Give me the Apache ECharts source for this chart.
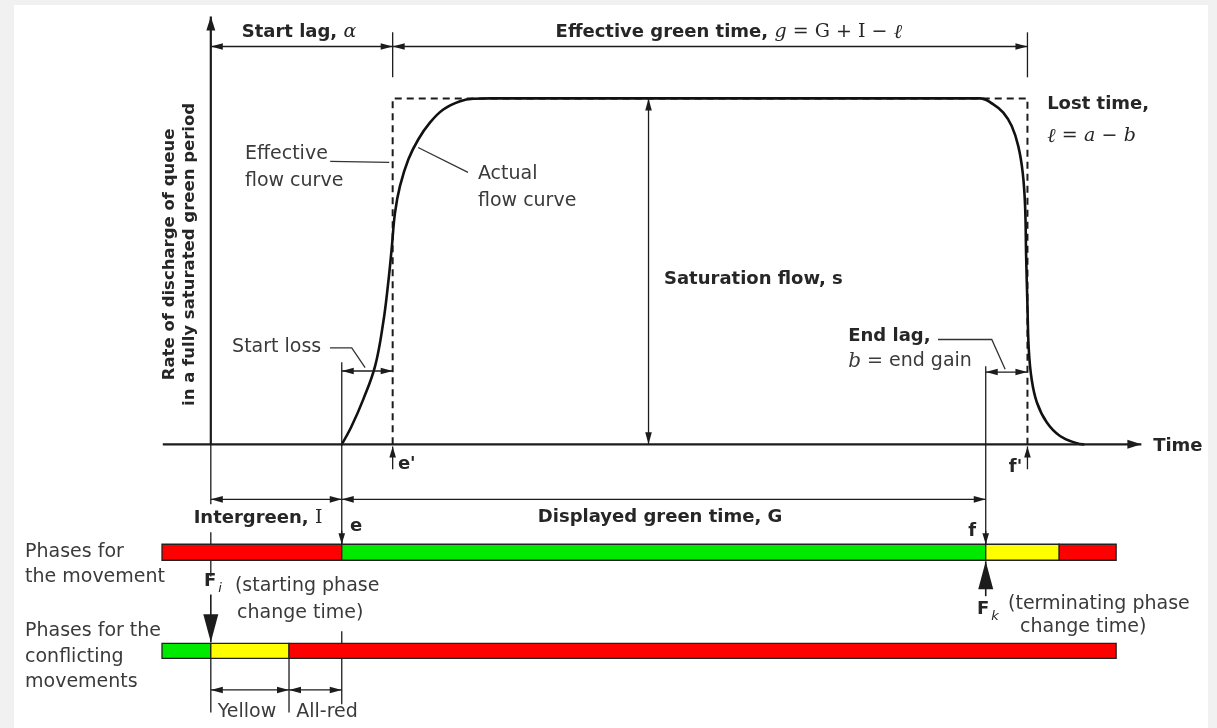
<!DOCTYPE html>
<html><head><meta charset="utf-8">
<script src="https://cdn.jsdelivr.net/npm/echarts@6/dist/echarts.min.js"></script>
<style>
html,body{margin:0;padding:0;background:#f1f1f1;width:1217px;height:728px;overflow:hidden}
#chart{position:absolute;left:14px;top:5px;width:1194px;height:723px;background:#fff}
</style></head><body><div id="chart"></div>
<script>
// Time axis in seconds measured from F_i (start of yellow for conflicting movements);
// flow axis as a fraction of the saturation flow s (0 = no discharge, 1 = s).

// Actual flow curve
const actualFlowCurve = [
  [4.99,0],[5.35,0.05],[5.81,0.13],[6.26,0.226],[6.57,0.352],[6.76,0.467],[6.89,0.564],
  [7.02,0.67],[7.21,0.747],[7.53,0.824],[7.91,0.882],[8.35,0.93],[8.86,0.968],
  [9.5,0.992],[10.0,0.999],[10.64,1],[20,1],[29.31,1],[29.82,0.983],[30.2,0.959],
  [30.52,0.92],[30.77,0.862],[30.94,0.785],[31.03,0.689],[31.07,0.544],[31.12,0.4],
  [31.17,0.275],[31.28,0.188],[31.48,0.121],[31.86,0.063],[32.36,0.024],[33.0,0.003],[33.25,0]
];
// Effective (rectangular) flow curve: e' to f'
const effectiveFlowCurve = [[6.93,0],[6.93,1],[31.12,1],[31.12,0]];

// Signal phases: [start, end, aspect]
const movementPhases = [[-1.86,4.99,'red'],[4.99,29.53,'green'],[29.53,32.33,'yellow'],[32.33,34.5,'red']];
const conflictingPhases = [[-1.86,0,'green'],[0,2.98,'yellow'],[2.98,34.5,'red']];
const phaseRows = [-0.312, -0.597]; // movement row, conflicting row (flow-axis units)

// Axes of the diagram: [t1, v1, t2, v2] (arrow at the second end)
const diagramAxes = [[0,0,0,1.237],[-1.83,0,35.46,0]];

// Dimension spans with arrows at both ends: [t1, v1, t2, v2]
const dimensionSpans = [
  [0,1.15,6.93,1.15],[6.93,1.15,31.12,1.15],
  [4.99,0.212,6.93,0.212],[29.53,0.209,31.12,0.209],
  [0,-0.159,4.99,-0.159],[4.99,-0.159,29.53,-0.159],
  [0,-0.71,2.98,-0.71],[2.98,-0.71,4.99,-0.71],
  [16.68,0,16.68,1]
];

// Extension / reference lines: [t1, v1, t2, v2]
const referenceLines = [
  [6.93,1.191,6.93,1.061],[31.12,1.191,31.12,1.061],
  [0,0,0,-0.173],[0,-0.254,0,-0.289],[0,-0.335,0,-0.382],[0,-0.618,0,-0.775],
  [4.99,0.237,4.99,-0.289],[4.99,-0.54,4.99,-0.575],[4.99,-0.618,4.99,-0.751],
  [29.53,0.226,29.53,-0.289],[2.98,-0.618,2.98,-0.775]
];

// Leader lines for annotations: polylines of [t, v]
const leaderLines = [
  [[4.55,0.818],[6.8,0.815]],
  [[7.9,0.858],[9.8,0.786]],
  [[4.54,0.279],[5.37,0.279],[5.88,0.222]],
  [[27.71,0.303],[29.76,0.303],[30.27,0.217]]
];

// Pointer arrows: [tFrom, vFrom, tTip, vTip, kind]
const pointerArrows = [
  [4.99,-0.25,4.99,-0.289,'small'],[29.53,-0.25,29.53,-0.289,'small'],
  [6.93,-0.072,6.93,-0.006,'small'],[31.12,-0.072,31.12,-0.006,'small'],
  [0,-0.434,0,-0.572,'big'],[29.53,-0.439,29.53,-0.338,'big']
];

// Text labels: [t, v, text, align, kind]
const labels = [
  [3.36,1.191,'Start lag, {m|α}','center','head'],
  [19.74,1.191,'Effective green time, {m|g} {s|= G + I −} {l|ℓ}','center','head'],
  [1.3,0.838,'Effective','left','plain'],
  [1.3,0.76,'flow curve','left','plain'],
  [10.18,0.78,'Actual','left','plain'],
  [10.18,0.702,'flow curve','left','plain'],
  [31.87,0.983,'Lost time,','left','head'],
  [31.87,0.89,'{l|ℓ} {s|=} {m|a} {s|−} {m|b}','left','head'],
  [17.27,0.477,'Saturation flow, s','left','head'],
  [0.81,0.28,'Start loss','left','plain'],
  [24.29,0.312,'End lag,','left','head'],
  [24.29,0.24,'{m|b} = end gain','left','plain'],
  [35.91,-0.006,'Time','left','head'],
  [7.13,-0.058,"e'",'left','head'],
  [30.92,-0.066,"f'",'right','head'],
  [1.8,-0.214,'Intergreen, {s|I}','center','head'],
  [17.12,-0.211,'Displayed green time, G','center','head'],
  [5.3,-0.237,'e','left','head'],
  [29.01,-0.251,'f','center','head'],
  [-7.08,-0.312,'Phases for','left','plain'],
  [-7.08,-0.384,'the movement','left','plain'],
  [-0.26,-0.396,'F{sub|i}','left','head'],
  [0.92,-0.41,'(starting phase','left','plain'],
  [1.0,-0.488,'change time)','left','plain'],
  [29.2,-0.477,'F{sub|k}','left','head'],
  [30.38,-0.462,'(terminating phase','left','plain'],
  [30.84,-0.529,'change time)','left','plain'],
  [-7.08,-0.54,'Phases for the','left','plain'],
  [-7.08,-0.616,'conflicting','left','plain'],
  [-7.08,-0.688,'movements','left','plain'],
  [1.38,-0.775,'Yellow','center','plain'],
  [4.43,-0.775,'All-red','center','plain']
];
// Rotated flow-axis title lines: [t, v, text]
const axisTitle = [
  [-1.555,0.549,'Rate of discharge of queue'],
  [-0.79,0.549,'in a fully saturated green period']
];

// ---------------- rendering ----------------
const INK = '#1c1c1c';
const TEXT_DARK = '#262626';
const TEXT_PLAIN = '#3a3a3a';
const aspectColor = { red: '#ff0000', green: '#00ea00', yellow: '#ffff00' };
const SANS = '"DejaVu Sans", "Liberation Sans", sans-serif';
const SERIF = '"DejaVu Serif", "Liberation Serif", serif';

function arrowPts(tip, tail, len, hw) {
  const dx = tip[0] - tail[0], dy = tip[1] - tail[1];
  const d = Math.hypot(dx, dy) || 1;
  const ux = dx / d, uy = dy / d;
  const bx = tip[0] - ux * len, by = tip[1] - uy * len;
  return [tip, [bx - uy * hw, by + ux * hw], [bx + uy * hw, by - ux * hw]];
}
function seg(a, b, w, color) {
  return { type: 'line', shape: { x1: a[0], y1: a[1], x2: b[0], y2: b[1] }, style: { stroke: color || INK, lineWidth: w } };
}
function tri(pts) { return { type: 'polygon', shape: { points: pts }, style: { fill: INK } }; }

const richFor = (size) => ({
  m: { fontFamily: SERIF, fontStyle: 'italic', fontSize: size + 1, fontWeight: 'normal' },
  l: { fontFamily: SERIF, fontStyle: 'italic', fontSize: size + 2, fontWeight: 'normal' },
  s: { fontFamily: SERIF, fontSize: size + 1, fontWeight: 'normal' },
  sub: { fontFamily: SANS, fontStyle: 'italic', fontSize: size - 5, fontWeight: 'normal', padding: [14, 0, 0, 2] }
});

const base = { type: 'custom', silent: true, clip: false, animation: false, z: 5 };

function phaseSeries(rows, rowIdx) {
  return Object.assign({}, base, {
    data: rows.map(r => [r[0], phaseRows[rowIdx], r[1]]),
    encode: { x: [0, 2], y: 1 },
    renderItem(params, api) {
      const r = rows[params.dataIndex];
      const a = api.coord([r[0], phaseRows[rowIdx]]);
      const b = api.coord([r[1], phaseRows[rowIdx]]);
      const h = rowIdx === 0 ? 16 : 15;
      return { type: 'rect', shape: { x: a[0], y: a[1] - h / 2, width: b[0] - a[0], height: h },
        style: { fill: aspectColor[r[2]], stroke: '#222', lineWidth: 1.3 } };
    }
  });
}

const option = {
  backgroundColor: '#ffffff',
  animation: false,
  grid: { left: 0, right: 0, top: 0, bottom: 0 },
  xAxis: { type: 'value', min: -7.5, max: 38, show: false },
  yAxis: { type: 'value', min: -0.82, max: 1.27, show: false },
  series: [
    {
      type: 'line', data: effectiveFlowCurve, symbol: 'none', silent: true, clip: false, z: 3,
      lineStyle: { color: INK, width: 2, type: [7, 5] }
    },
    {
      type: 'line', data: actualFlowCurve, symbol: 'none', silent: true, clip: false, z: 4,
      smooth: 0.4,
      lineStyle: { color: '#111', width: 2.6, join: 'round', cap: 'round' }
    },
    phaseSeries(movementPhases, 0),
    phaseSeries(conflictingPhases, 1),
    Object.assign({}, base, {
      data: diagramAxes, encode: { x: [0, 2], y: [1, 3] },
      renderItem(params, api) {
        const d = diagramAxes[params.dataIndex];
        const a = api.coord([d[0], d[1]]), b = api.coord([d[2], d[3]]);
        return { type: 'group', children: [seg(a, b, 2.2), tri(arrowPts(b, a, 14, 4.5))] };
      }
    }),
    Object.assign({}, base, {
      data: dimensionSpans, encode: { x: [0, 2], y: [1, 3] },
      renderItem(params, api) {
        const d = dimensionSpans[params.dataIndex];
        const a = api.coord([d[0], d[1]]), b = api.coord([d[2], d[3]]);
        return { type: 'group', children: [seg(a, b, 1.3), tri(arrowPts(a, b, 12, 3.3)), tri(arrowPts(b, a, 12, 3.3))] };
      }
    }),
    Object.assign({}, base, {
      data: referenceLines, encode: { x: [0, 2], y: [1, 3] },
      renderItem(params, api) {
        const d = referenceLines[params.dataIndex];
        return seg(api.coord([d[0], d[1]]), api.coord([d[2], d[3]]), 1.3);
      }
    }),
    Object.assign({}, base, {
      data: leaderLines.map(l => l[0]),
      renderItem(params, api) {
        const pts = leaderLines[params.dataIndex].map(p => api.coord(p));
        return { type: 'polyline', shape: { points: pts }, style: { stroke: '#333', lineWidth: 1.3, fill: null } };
      }
    }),
    Object.assign({}, base, {
      data: pointerArrows.map(p => [p[0], p[1], p[2], p[3]]), encode: { x: [0, 2], y: [1, 3] },
      renderItem(params, api) {
        const d = pointerArrows[params.dataIndex];
        const a = api.coord([d[0], d[1]]), b = api.coord([d[2], d[3]]);
        const big = d[4] === 'big';
        return { type: 'group', children: [seg(a, b, big ? 1.6 : 1.3), tri(arrowPts(b, a, big ? 28 : 11, big ? 7.5 : 3.3))] };
      }
    }),
    Object.assign({}, base, {
      data: labels.map(l => [l[0], l[1]]), z: 10,
      renderItem(params, api) {
        const d = labels[params.dataIndex];
        const p = api.coord([d[0], d[1]]);
        const head = d[4] === 'head';
        const size = head ? 18 : 19;
        return { type: 'text', x: p[0], y: p[1], style: {
          text: d[2], fill: head ? TEXT_DARK : TEXT_PLAIN, fontFamily: SANS, fontSize: size,
          fontWeight: head ? 'bold' : 'normal', align: d[3], verticalAlign: 'middle', rich: richFor(size) } };
      }
    }),
    Object.assign({}, base, {
      data: axisTitle.map(l => [l[0], l[1]]), z: 10,
      renderItem(params, api) {
        const d = axisTitle[params.dataIndex];
        const p = api.coord([d[0], d[1]]);
        return { type: 'text', x: p[0], y: p[1], rotation: Math.PI / 2, style: {
          text: d[2], fill: TEXT_DARK, fontFamily: SANS, fontSize: 16.5, fontWeight: 'bold',
          align: 'center', verticalAlign: 'middle' } };
      }
    })
  ]
};
const chart = echarts.init(document.getElementById('chart'), null, { renderer: 'canvas' });
chart.setOption(option);
</script></body></html>
